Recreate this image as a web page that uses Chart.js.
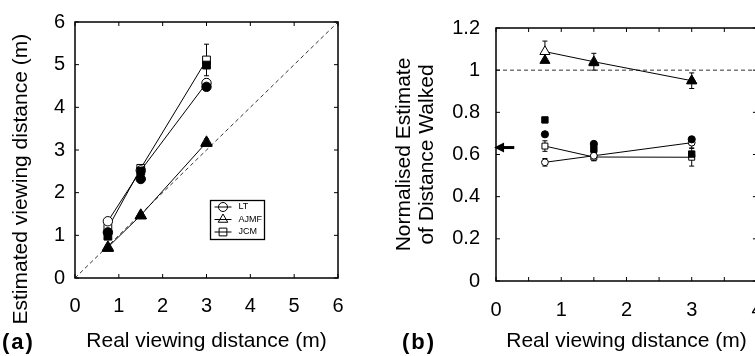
<!DOCTYPE html>
<html>
<head>
<meta charset="utf-8">
<script src="https://cdn.jsdelivr.net/npm/chart.js"></script>
<style>
  html, body { margin: 0; padding: 0; background: #fff; overflow: hidden; }
  #wrap { position: relative; width: 755px; height: 356px; overflow: hidden; }
  canvas { position: absolute; top: 0; }
  #chartA { left: 0; }
  #chartB { left: 380px; }
  .tag { position: absolute; top: 330px; font: bold 22px "Liberation Sans", Arial, sans-serif; line-height: 24px; letter-spacing: 2px; }
</style>
</head>
<body>
<div id="wrap">
  <canvas id="chartA" width="380" height="356"></canvas>
  <canvas id="chartB" width="400" height="356"></canvas>
  <div class="tag" style="left:2px">(a)</div>
  <div class="tag" style="left:402px">(b)</div>
</div>
<script>
const distances = [0.75, 1.5, 3];
const subjects = ['LT', 'AJMF', 'JCM'];
const markerStyles = ['circle', 'triangle', 'rect'];

// (a) estimated viewing distance, open = one condition, filled = other
const estLTOpen = [1.33, 2.52, 4.57];
const estLTFilled = [1.07, 2.32, 4.48];
const estLTErr = [0.08, 0.06, 0.1];
const estAJMFOpen = [0.72, 1.47, 3.18];
const estAJMFFilled = [0.70, 1.46, 3.16];
const estAJMFErr = [0.05, 0.05, 0.08];
const estJCMOpen = [1.17, 2.57, 5.11];
const estJCMFilled = [0.98, 2.50, 4.99];
const estJCMErr = [0.1, 0.08, 0.37];
const identityLine = [0, 6];

// (b) normalised estimate of distance walked
const walkLTOpen = [0.563, 0.594, 0.656];
const walkLTFilled = [0.696, 0.650, 0.672];
const walkLTErr = [0.018, 0.02, 0.025];
const walkAJMFOpen = [1.088, 1.040, 0.950];
const walkAJMFFilled = [1.046, 1.035, 0.949];
const walkAJMFErr = [0.05, 0.04, 0.037];
const walkJCMOpen = [0.640, 0.588, 0.587];
const walkJCMFilled = [0.764, 0.625, 0.602];
const walkJCMErr = [0.025, 0.018, 0.042];
const unityX = [0, 4];
const unityY = [1, 1];
const arrowLevel = 0.633;
const arrowSpan = [-0.03, 0.28];

const FONT = '"Liberation Sans", Arial, Helvetica, sans-serif';
Chart.defaults.font.family = FONT;
Chart.defaults.color = '#000';

function pts(xs, ys) {
  return xs.map((x, i) => ({ x, y: ys[i] }));
}

function openSet(label, ys, errs, style, r) {
  return {
    label, data: pts(distances, ys), errors: errs, showLine: true,
    borderColor: '#000', borderWidth: 1,
    pointStyle: style, pointRadius: r, pointBorderWidth: 1,
    pointBorderColor: '#000', pointBackgroundColor: '#fff',
  };
}

function filledSet(label, ys, style, r) {
  return {
    label, data: pts(distances, ys), showLine: false,
    pointStyle: style, pointRadius: r, pointBorderWidth: 1,
    pointBorderColor: '#000', pointBackgroundColor: '#000',
  };
}

function dashedSet(xs, ys) {
  return {
    label: 'ref', data: pts(xs, ys), showLine: true,
    borderColor: '#333', borderWidth: 1, borderDash: [4, 3], pointRadius: 0,
  };
}

function markerPath(ctx, style, r, x, y) {
  ctx.beginPath();
  if (style === 'circle') {
    ctx.arc(x, y, r, 0, Math.PI * 2);
  } else if (style === 'triangle') {
    ctx.moveTo(x, y - r);
    ctx.lineTo(x + r * 0.866, y + r * 0.5);
    ctx.lineTo(x - r * 0.866, y + r * 0.5);
    ctx.closePath();
  } else {
    const s = r * Math.SQRT1_2;
    ctx.rect(x - s, y - s, 2 * s, 2 * s);
  }
}

// box round the plot with inward ticks on all four sides
const framePlugin = {
  id: 'frame',
  afterDatasetsDraw(chart) {
    const { ctx, chartArea: a, scales: { x, y } } = chart;
    ctx.save();
    ctx.strokeStyle = '#000';
    ctx.lineWidth = 1.5;
    ctx.strokeRect(a.left, a.top, a.right - a.left, a.bottom - a.top);
    ctx.lineWidth = 1;
    ctx.beginPath();
    const len = 4;
    x.ticks.forEach((t) => {
      const px = x.getPixelForValue(t.value);
      ctx.moveTo(px, a.bottom); ctx.lineTo(px, a.bottom - len);
      ctx.moveTo(px, a.top); ctx.lineTo(px, a.top + len);
    });
    y.ticks.forEach((t) => {
      const py = y.getPixelForValue(t.value);
      ctx.moveTo(a.left, py); ctx.lineTo(a.left + len, py);
      ctx.moveTo(a.right, py); ctx.lineTo(a.right - len, py);
    });
    ctx.stroke();
    ctx.restore();
  },
};

const errorBarPlugin = {
  id: 'errorBars',
  beforeDatasetsDraw(chart) {
    const { ctx, scales: { y } } = chart;
    ctx.save();
    ctx.strokeStyle = '#000';
    ctx.lineWidth = 1;
    chart.data.datasets.forEach((ds, i) => {
      if (!ds.errors) return;
      chart.getDatasetMeta(i).data.forEach((pt, j) => {
        const v = ds.data[j].y;
        const e = ds.errors[j];
        const top = y.getPixelForValue(v + e);
        const bot = y.getPixelForValue(v - e);
        ctx.beginPath();
        ctx.moveTo(pt.x, top); ctx.lineTo(pt.x, bot);
        ctx.moveTo(pt.x - 2.5, top); ctx.lineTo(pt.x + 2.5, top);
        ctx.moveTo(pt.x - 2.5, bot); ctx.lineTo(pt.x + 2.5, bot);
        ctx.stroke();
      });
    });
    ctx.restore();
  },
};

const legendCorner = [3.08, 1.82];
const legendRadius = [4.5, 5.5, 5.5];
const legendBoxPlugin = {
  id: 'legendBox',
  afterDraw(chart) {
    const { ctx, scales: { x, y } } = chart;
    const left = Math.round(x.getPixelForValue(legendCorner[0])) + 0.5;
    const top = Math.round(y.getPixelForValue(legendCorner[1])) + 0.5;
    ctx.save();
    ctx.fillStyle = '#fff';
    ctx.fillRect(left, top, 54, 39);
    ctx.strokeStyle = '#000';
    ctx.lineWidth = 1.3;
    ctx.strokeRect(left, top, 54, 39);
    ctx.lineWidth = 1;
    ctx.font = '9px ' + FONT;
    ctx.textBaseline = 'middle';
    ctx.fillStyle = '#000';
    subjects.forEach((name, i) => {
      const cy = top + 6.5 + i * 12.5;
      ctx.beginPath();
      ctx.moveTo(left + 4, cy); ctx.lineTo(left + 21, cy);
      ctx.stroke();
      markerPath(ctx, markerStyles[i], legendRadius[i], left + 12.5, cy);
      ctx.stroke();
      ctx.fillText(name, left + 28, cy);
    });
    ctx.restore();
  },
};

const arrowPlugin = {
  id: 'arrow',
  afterDatasetsDraw(chart) {
    const { ctx, scales: { x, y } } = chart;
    const py = y.getPixelForValue(arrowLevel);
    const tip = x.getPixelForValue(arrowSpan[0]);
    const tail = x.getPixelForValue(arrowSpan[1]);
    ctx.save();
    ctx.fillStyle = '#000';
    ctx.strokeStyle = '#000';
    ctx.lineWidth = 3;
    ctx.beginPath();
    ctx.moveTo(tip + 8, py); ctx.lineTo(tail, py);
    ctx.stroke();
    ctx.beginPath();
    ctx.moveTo(tip, py); ctx.lineTo(tip + 10, py - 5); ctx.lineTo(tip + 10, py + 5);
    ctx.closePath();
    ctx.fill();
    ctx.restore();
  },
};

function axis(min, max, step, pad, title, titlePad, fit) {
  return {
    type: 'linear', min, max,
    ticks: { stepSize: step, padding: pad, font: { size: 20 }, autoSkip: false, maxRotation: 0, color: '#000' },
    grid: { display: false, drawTicks: false },
    border: { display: false },
    title: { display: true, text: title, font: { size: 21 }, padding: titlePad, color: '#000' },
    afterFit: fit,
  };
}

const common = {
  responsive: false,
  animation: false,
  events: [],
  plugins: { legend: { display: false }, tooltip: { enabled: false } },
};

new Chart(document.getElementById('chartA').getContext('2d'), {
  type: 'scatter',
  data: {
    datasets: [
      filledSet('LT', estLTFilled, 'circle', 4.7),
      filledSet('AJMF', estAJMFFilled, 'triangle', 6.5),
      filledSet('JCM', estJCMFilled, 'rect', 5.5),
      openSet('LT', estLTOpen, estLTErr, 'circle', 4.7),
      openSet('AJMF', estAJMFOpen, estAJMFErr, 'triangle', 6.5),
      openSet('JCM', estJCMOpen, estJCMErr, 'rect', 5.5),
      dashedSet(identityLine, identityLine),
    ],
  },
  options: {
    ...common,
    layout: { padding: { top: 15, right: 42, bottom: 0, left: 0 } },
    scales: {
      x: axis(0, 6, 1, 16, 'Real viewing distance (m)', { top: 0, bottom: 2 }, (s) => { s.height = 78; }),
      y: axis(0, 6, 1, 10, 'Estimated viewing distance (m)          ', { top: 9, bottom: 0 }, (s) => { s.width = 75; }),
    },
  },
  plugins: [errorBarPlugin, framePlugin, legendBoxPlugin],
});

const xB = axis(0, 4, 0.5, 17.5, 'Real viewing distance (m)', { top: 0, bottom: 2 }, (s) => { s.height = 75; });
xB.ticks.callback = (v) => (Number.isInteger(v) ? v : '');
const yB = axis(0, 1.2, 0.2, 16, ['Normalised Estimate', 'of Distance Walked'], { top: 13, bottom: 0 }, (s) => { s.width = 116; });
yB.ticks.callback = (v) => String(parseFloat(v.toFixed(1)));
yB.title.font.lineHeight = 1.1;

new Chart(document.getElementById('chartB').getContext('2d'), {
  type: 'scatter',
  data: {
    datasets: [
      filledSet('LT', walkLTFilled, 'circle', 3.6),
      filledSet('AJMF', walkAJMFFilled, 'triangle', 5.8),
      filledSet('JCM', walkJCMFilled, 'rect', 4.5),
      openSet('LT', walkLTOpen, walkLTErr, 'circle', 3.4),
      openSet('AJMF', walkAJMFOpen, walkAJMFErr, 'triangle', 5.8),
      openSet('JCM', walkJCMOpen, walkJCMErr, 'rect', 4.2),
      dashedSet(unityX, unityY),
    ],
  },
  options: {
    ...common,
    layout: { padding: { top: 22, right: 23, bottom: 0, left: 0 } },
    scales: { x: xB, y: yB },
  },
  plugins: [errorBarPlugin, framePlugin, arrowPlugin],
});
</script>
</body>
</html>
